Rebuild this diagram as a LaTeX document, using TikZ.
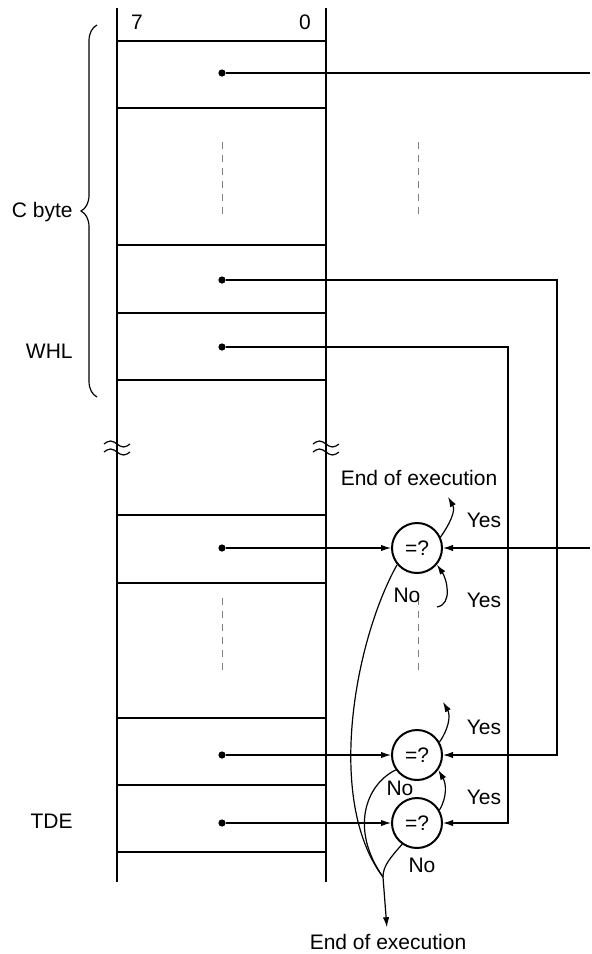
\documentclass[tikz,border=0pt]{standalone}
\usepackage{fontspec}
\setmainfont{Liberation Sans}
\usetikzlibrary{arrows.meta,decorations.pathreplacing}

\begin{document}
\begin{tikzpicture}[x=0.5pt,y=-0.5pt,font=\fontsize{10.5}{12}\selectfont,
  wall/.style={line width=1.15pt},
  wire/.style={line width=0.6pt},
  arr/.style={wire,-{Latex[length=5pt,width=3.2pt]}},
  dot/.style={circle,fill,inner sep=0pt,minimum size=3.6pt},
  cmp/.style={circle,draw,line width=1pt,minimum size=25pt,inner sep=0pt},
  gap/.style={gray,line width=0.5pt,dash pattern=on 3.5pt off 3pt}]
  \useasboundingbox (0,0) rectangle (592,954);
  \draw[wall] (117,8) -- (117,882) (326,8) -- (326,882);
  \foreach \y in {41,108,245,313,380,515,583,718,785,852}
    \draw[wall] (117,\y) -- (326,\y);
  \node (bit7) at (137,22) {7};
  \node (bit0) at (305,22) {0};
  \foreach \x in {222,418} {
    \draw[gap] (\x,142) -- (\x,214);
    \draw[gap] (\x,598) -- (\x,670);
  }
  \foreach \x in {117,326}
    \foreach \dy in {-4,4}
      \draw[wire] (\x-13,448+\dy) sin (\x-6.5,445+\dy) cos (\x,448+\dy) sin (\x+6.5,451+\dy) cos (\x+13,448+\dy);
  \draw[wire,decorate,decoration={brace,amplitude=8pt}] (97,397) -- (97,25);
  \node[anchor=east,inner sep=0pt] (cbyte) at (73,212) {C byte};
  \node[anchor=east,inner sep=0pt] (whl) at (73,351) {WHL};
  \node[anchor=east,inner sep=0pt] (tde) at (73,821) {TDE};
  \foreach \n/\y in {1/73,2/280,3/347,4/548,5/755,6/823}
    \node[dot] (d\n) at (222,\y) {};
  \node[cmp] (q1) at (417,548) {=?};
  \node[cmp] (q2) at (417,755) {=?};
  \node[cmp] (q3) at (417,823) {=?};
  \coordinate (t1) at (590,73);
  \coordinate (t2) at (590,548);
  \coordinate (r2) at (557,280);
  \coordinate (r3) at (508,347);
  \draw[wire] (d1) -- (t1);
  \draw[arr] (t2) -- (q1);
  \draw[arr] (d4) -- (q1);
  \draw[arr] (d5) -- (q2);
  \draw[arr] (d6) -- (q3);
  \draw[arr] (d2) -- (r2) |- (q2);
  \draw[arr] (d3) -- (r3) |- (q3);
  \node (end1) at (419,478) {End of execution};
  \node (end2) at (388,942) {End of execution};
  \coordinate (y1) at (448,497);
  \coordinate (y2) at (437,607);
  \coordinate (y3) at (443,702);
  \draw[arr] (q1.25) to[out=55,in=-60] (y1);
  \draw[arr] (y2) to[out=10,in=-55] (q1.-40);
  \draw[arr] (q2.30) to[out=55,in=-60] (y3);
  \draw[arr] (q3.30) to[out=60,in=-60] (q2.-35);
  \node (yes1) at (484,520) {Yes};
  \node (yes2) at (484,600) {Yes};
  \node (yes3) at (484,727) {Yes};
  \node (yes4) at (484,797) {Yes};
  \node (no1) at (407,595) {No};
  \node (no2) at (400,788) {No};
  \node (no3) at (422,865) {No};
  \coordinate (j) at (383,877);
  \draw[wire] (q1.220) .. controls (355,640) and (325,800) .. (j);
  \draw[wire] (q2.215) .. controls (365,785) and (350,830) .. (j);
  \draw[wire] (q3.235) .. controls (390,858) and (383,866) .. (j);
  \draw[arr] (j) -- (end2);
\end{tikzpicture}
\end{document}
